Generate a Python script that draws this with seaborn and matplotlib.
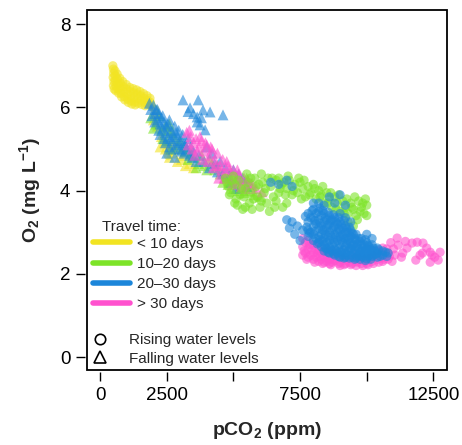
import matplotlib
matplotlib.use("Agg")
import matplotlib.pyplot as plt
from matplotlib.lines import Line2D
import seaborn as sns
import pandas as pd

# ---------------- data (pCO2 ppm, O2 mg/L) ----------------
yellow_rising = [
    (480, 7.00), (500, 6.92), (510, 6.82), (490, 6.72), (520, 6.62), (500, 6.52), (530, 6.44),
    (560, 6.88), (570, 6.76), (580, 6.64), (600, 6.52), (590, 6.40),
    (640, 6.80), (650, 6.68), (670, 6.56), (680, 6.44), (700, 6.34),
    (740, 6.70), (760, 6.58), (770, 6.46), (790, 6.34), (810, 6.25),
    (850, 6.62), (870, 6.50), (890, 6.38), (910, 6.26), (930, 6.18),
    (980, 6.55), (1000, 6.44), (1020, 6.32), (1040, 6.20), (1060, 6.12),
    (1110, 6.48), (1130, 6.38), (1150, 6.27), (1170, 6.16), (1190, 6.08),
    (1240, 6.45), (1260, 6.35), (1280, 6.24), (1300, 6.13), (1320, 6.06),
    (1370, 6.42), (1390, 6.32), (1410, 6.21), (1430, 6.10),
    (1500, 6.38), (1520, 6.28), (1540, 6.17), (1560, 6.07),
    (1630, 6.33), (1650, 6.22), (1670, 6.12), (1690, 6.04),
    (1760, 6.28), (1780, 6.17), (1800, 6.07),
    (1870, 6.22), (1890, 6.12), (1920, 6.04),
    (2050, 5.95), (2100, 5.80), (2500, 5.10), (2600, 4.95), (2700, 5.05), (2550, 4.85),
]
yellow_falling = [
    (2000, 5.70), (2150, 5.55), (2300, 5.30), (2400, 5.15), (2450, 5.00), (2600, 4.80),
    (2750, 4.90), (2900, 4.70), (3050, 4.75), (3200, 4.60), (3350, 4.65), (3500, 4.55),
    (2250, 5.05), (2800, 5.00), (3100, 4.85),
]
green_falling = [
    (1900, 5.75), (2100, 5.60), (2300, 5.45), (2450, 5.55), (2500, 5.20), (2700, 5.40),
    (2650, 5.00), (2900, 5.05), (3000, 5.20), (3200, 4.95), (3300, 4.75), (3500, 4.80),
    (3700, 4.65), (3900, 4.60), (4100, 4.75), (4300, 4.50), (4500, 4.40), (4700, 4.30),
    (4900, 4.45), (5100, 4.25), (5300, 4.15), (5500, 4.30), (5700, 4.10), (2200, 5.80),
    (2600, 5.60),
    (2000, 5.50), (2350, 5.25), (2550, 5.45), (2800, 5.25), (3100, 5.00), (3400, 4.90),
    (3600, 4.55), (3800, 4.85), (4000, 4.50), (4200, 4.65), (4400, 4.60), (4600, 4.20),
    (4800, 4.15), (5000, 4.05), (5200, 4.00), (5400, 3.95), (5600, 4.00), (5800, 3.90),
    (6000, 3.85),
]
blue_falling = [
    (1850, 6.10), (1900, 5.95), (2000, 6.05), (2050, 5.85), (2100, 5.95), (2150, 5.70),
    (2200, 5.85), (2250, 5.60), (2300, 5.75), (2350, 5.50), (2400, 5.65), (2450, 5.40),
    (2500, 5.55), (2550, 5.30), (2600, 5.70), (2650, 5.45), (2700, 5.20), (2750, 5.35),
    (2800, 5.55), (2850, 5.10), (2900, 5.30), (2950, 5.45), (3000, 5.00), (3050, 5.20),
    (3100, 5.35), (3150, 4.90), (3200, 5.10), (3300, 5.25), (3350, 4.85), (3400, 5.05),
    (2200, 5.45), (2400, 5.25), (2600, 5.05), (2500, 4.90), (2800, 4.80), (3500, 4.95),
    (3600, 4.70),
    (1950, 5.80), (2050, 5.65), (2150, 5.95), (2250, 5.35), (2350, 5.80), (2450, 5.15),
    (2550, 5.60), (2650, 5.25), (2750, 5.00), (2850, 5.40), (2950, 5.15), (3050, 4.95),
    (3150, 5.15), (3250, 5.00), (3450, 4.80), (3700, 4.85), (3900, 4.70), (4100, 4.55),
    (4300, 4.65), (4400, 4.45), (4600, 4.40), (4900, 4.20), (5100, 4.05), (5500, 4.10),
    (4700, 4.55), (4850, 4.35), (5000, 4.50), (5200, 4.40), (5350, 4.30), (4500, 4.70),
    (4000, 5.05), (4200, 4.90),
    (3110, 6.18), (3680, 6.18), (3375, 5.99), (3860, 5.94), (4125, 5.89), (4610, 5.82),
    (3640, 5.77), (3940, 5.46), (3640, 5.65), (3750, 5.58), (3500, 5.85), (3800, 5.75),
    (3300, 5.90),
]
pink_falling = [
    (3250, 5.40), (3400, 5.30), (3500, 5.15), (3600, 5.25), (3700, 5.05), (3800, 5.20),
    (3900, 4.95), (4000, 5.10), (4100, 4.85), (4200, 5.00), (4300, 4.75), (4400, 4.90),
    (4500, 4.60), (4600, 4.75), (4700, 4.45), (4800, 4.60), (4900, 4.30), (5000, 4.50),
    (5100, 4.20), (5200, 4.40), (5400, 4.30), (5600, 4.15), (5700, 4.18), (6075, 3.97),
    (3550, 4.85), (3850, 4.75), (4250, 4.55), (4450, 4.30), (5300, 4.10), (3300, 5.10),
    (3350, 5.45), (3450, 5.00), (3650, 4.95), (3750, 5.30), (3950, 5.15), (4050, 4.70),
    (4150, 5.05), (4350, 4.60), (4550, 4.50), (4650, 4.30), (4750, 4.70), (4850, 4.50),
    (4950, 4.15), (5050, 4.35), (5150, 4.50), (5250, 4.25), (5450, 4.05), (5550, 4.25),
    (5850, 4.05),
]
green_rising = [
    (4700, 4.30), (4800, 4.10), (4900, 3.95), (5000, 4.35), (5050, 4.15), (5100, 3.80),
    (5150, 3.65), (5200, 4.25), (5300, 4.05), (5350, 3.55), (5400, 3.85), (5500, 4.40),
    (5550, 4.20), (5600, 3.70), (5650, 3.95), (5700, 3.55), (5800, 4.30), (5850, 4.10),
    (5900, 3.85), (6000, 3.60), (6050, 4.40), (6100, 4.20), (6150, 3.95), (6250, 3.70),
    (6300, 4.30), (6350, 3.50), (6400, 4.10), (6500, 3.85), (6600, 4.25), (6700, 3.95),
    (6800, 4.15), (6850, 3.60),
    (6700, 4.30), (6900, 4.20), (7000, 4.05), (7100, 4.25), (7300, 4.15), (7400, 3.95),
    (7500, 4.20), (7600, 4.05), (7700, 3.85), (7800, 4.10), (7900, 3.95), (8000, 4.15),
    (8100, 3.80), (8200, 4.00), (8300, 3.90), (8400, 3.70), (8500, 3.95), (8600, 3.80),
    (8700, 3.60), (8800, 3.85), (8900, 3.70), (9000, 3.50), (9100, 3.75), (9200, 3.60),
    (9300, 3.45), (9400, 3.70), (9500, 3.55), (9600, 3.40), (9700, 3.75), (9800, 3.60),
    (9900, 3.45), (10000, 3.65), (9950, 3.80), (7200, 3.90), (7000, 3.70), (6600, 3.75),
    (9300, 3.25), (9500, 3.15), (9650, 3.30),
    (4750, 4.20), (4850, 3.90), (4950, 4.25), (5050, 3.70), (5250, 3.90), (5450, 4.05),
    (5450, 3.60), (5650, 4.30), (5750, 3.80), (5950, 4.15), (6050, 3.75), (6200, 4.05),
    (6450, 4.30), (6550, 3.60), (6750, 4.05), (6950, 3.90), (7050, 4.35), (7250, 4.00),
    (7450, 4.30), (7550, 3.80), (7650, 4.25), (7850, 3.90), (8050, 4.05), (8250, 3.85),
    (8350, 4.10), (8550, 3.70), (8650, 3.95), (8850, 3.55), (8950, 3.90), (9150, 3.45),
    (9250, 3.80), (9450, 3.60), (9550, 3.85), (9750, 3.50), (9850, 3.70), (10000, 3.40),
]
pink_rising = [
    (7600, 2.85), (7600, 2.65), (7600, 2.45), (7800, 2.80), (7800, 2.60), (7800, 2.40),
    (8000, 2.70), (8000, 2.50), (8000, 2.35), (8200, 2.75), (8200, 2.55), (8200, 2.30),
    (8400, 2.60), (8400, 2.40), (8400, 2.28), (8600, 2.55), (8600, 2.35), (8600, 2.25),
    (8800, 2.50), (8800, 2.32), (9000, 2.45), (9000, 2.28), (9000, 2.20), (9200, 2.40),
    (9200, 2.25), (9400, 2.35), (9400, 2.22), (9600, 2.45), (9600, 2.30), (9600, 2.20),
    (9800, 2.40), (9800, 2.25), (10000, 2.38), (10000, 2.25), (10200, 2.45), (10200, 2.30),
    (10400, 2.55), (10400, 2.35), (10600, 2.62), (10600, 2.40), (10600, 2.30), (10800, 2.50),
    (10800, 2.35), (7700, 2.75), (7700, 2.50), (7900, 2.70), (7900, 2.45), (8100, 2.60),
    (8100, 2.40), (8300, 2.50), (8300, 2.35), (8500, 2.45), (8500, 2.30), (8700, 2.40),
    (8700, 2.28),
    (7650, 2.55), (7750, 2.35), (7850, 2.70), (7950, 2.58), (8050, 2.28), (8150, 2.50),
    (8250, 2.42), (8350, 2.25), (8450, 2.52), (8550, 2.38), (8650, 2.22), (8750, 2.35),
    (8850, 2.42), (8950, 2.25), (9050, 2.35), (9150, 2.22), (9250, 2.32), (9350, 2.28),
    (9450, 2.25), (9550, 2.38), (9650, 2.28), (9750, 2.32), (9850, 2.20), (9950, 2.30),
    (10050, 2.22), (10150, 2.38), (10250, 2.25), (10350, 2.40), (10450, 2.28), (10550, 2.48),
    (10650, 2.35), (10750, 2.60), (10850, 2.42), (10950, 2.30), (11050, 2.45), (11450, 2.78),
    (12250, 2.62), (12550, 2.40),
    (11140, 2.86), (11180, 2.69), (11700, 2.74), (11890, 2.76), (12110, 2.74), (11510, 2.62),
    (11350, 2.50), (11840, 2.33), (12090, 2.50), (12380, 2.52), (12450, 2.45), (12380, 2.28),
    (12680, 2.33), (12750, 2.52), (11000, 2.60), (10900, 2.75), (11300, 2.40), (12000, 2.45),
]
blue_rising = [
    (6400, 4.20), (6700, 4.15), (7000, 4.25), (7200, 4.10), (8600, 3.85), (8800, 3.70),
    (9000, 3.90), (9200, 3.65),
    (7000, 3.30), (7200, 3.25), (7100, 3.10), (7300, 2.95), (7400, 3.15), (7600, 3.05),
    (7500, 2.80),
    (7800, 3.45), (7800, 3.25), (7800, 3.05), (7800, 2.90),
    (8000, 3.55), (8000, 3.35), (8000, 3.15), (8000, 2.95), (8000, 2.80),
    (8200, 3.50), (8200, 3.30), (8200, 3.10), (8200, 2.90), (8200, 2.75),
    (8400, 3.45), (8400, 3.25), (8400, 3.05), (8400, 2.85), (8400, 2.70), (8400, 2.55),
    (8600, 3.40), (8600, 3.20), (8600, 3.00), (8600, 2.80), (8600, 2.65), (8600, 2.50),
    (8800, 3.35), (8800, 3.15), (8800, 2.95), (8800, 2.75), (8800, 2.60), (8800, 2.45),
    (9000, 3.25), (9000, 3.05), (9000, 2.90), (9000, 2.70), (9000, 2.55), (9000, 2.40),
    (9200, 3.15), (9200, 3.00), (9200, 2.85), (9200, 2.65), (9200, 2.50), (9200, 2.40),
    (9400, 3.05), (9400, 2.90), (9400, 2.75), (9400, 2.60), (9400, 2.45),
    (9600, 2.95), (9600, 2.80), (9600, 2.65), (9600, 2.50), (9600, 2.38),
    (9800, 2.85), (9800, 2.70), (9800, 2.55), (9800, 2.42),
    (10000, 2.75), (10000, 2.60), (10000, 2.48), (10000, 2.36),
    (10200, 2.70), (10200, 2.55), (10200, 2.42),
    (10400, 2.62), (10400, 2.50), (10400, 2.40),
    (10600, 2.55), (10600, 2.45), (10800, 2.50),
    (7900, 3.35), (7900, 3.00), (8100, 3.45), (8100, 3.20), (8100, 2.85),
    (8300, 3.40), (8300, 3.15), (8300, 2.95), (8300, 2.65),
    (8500, 3.30), (8500, 3.10), (8500, 2.75), (8500, 2.60),
    (8700, 3.30), (8700, 3.05), (8700, 2.70), (8700, 2.55),
    (8900, 3.20), (8900, 3.00), (8900, 2.80), (8900, 2.50),
    (9100, 3.10), (9100, 2.95), (9100, 2.75), (9100, 2.45),
    (9300, 3.00), (9300, 2.80), (9300, 2.55), (9500, 2.95), (9500, 2.70), (9500, 2.50),
    (9700, 2.85), (9700, 2.60), (9700, 2.45), (9900, 2.70), (9900, 2.50),
    (10100, 2.65), (10100, 2.45), (10300, 2.55),
    (8000, 3.70), (8200, 3.70), (8400, 3.65), (9000, 3.45), (9200, 3.35), (9400, 3.25),
    (10000, 2.95), (10200, 2.85),
    (7700, 3.38), (7750, 3.12), (7850, 2.98), (7950, 3.52), (8050, 3.28), (8050, 3.02),
    (8150, 2.72), (8250, 3.58), (8250, 3.22), (8250, 2.82), (8350, 3.52), (8350, 3.05),
    (8350, 2.78), (8450, 3.35), (8450, 2.95), (8450, 2.62), (8550, 3.48), (8550, 3.18),
    (8550, 2.88), (8550, 2.52), (8650, 3.28), (8650, 2.92), (8650, 2.58), (8750, 3.42),
    (8750, 3.12), (8750, 2.82), (8750, 2.48), (8850, 3.25), (8850, 2.88), (8850, 2.55),
    (8950, 3.35), (8950, 3.08), (8950, 2.62), (8950, 2.42), (9050, 3.18), (9050, 2.82),
    (9050, 2.52), (9150, 3.28), (9150, 2.88), (9150, 2.58), (9150, 2.38), (9250, 3.08),
    (9250, 2.72), (9250, 2.45), (9350, 3.12), (9350, 2.85), (9350, 2.62), (9350, 2.38),
    (9450, 2.98), (9450, 2.68), (9450, 2.40), (9550, 2.85), (9550, 2.58), (9550, 2.35),
    (9650, 2.72), (9650, 2.42), (9750, 2.78), (9750, 2.52), (9750, 2.35), (9850, 2.62),
    (9850, 2.40), (9950, 2.82), (9950, 2.55), (9950, 2.32), (10050, 2.68), (10050, 2.42),
    (10150, 2.58), (10150, 2.35), (10250, 2.62), (10250, 2.45), (10350, 2.48), (10450, 2.58),
    (10500, 2.42), (10700, 2.52), (10750, 2.42),
]

travel_labels = ["< 10 days", "10\u201320 days", "20\u201330 days", "> 30 days"]
level_labels = ["Rising water levels", "Falling water levels"]
palette_colors = ["#F2E422", "#7DE428", "#1C86DA", "#FF52CE"]

# draw order (later groups on top)
groups = [
    (yellow_rising, 0, "Rising"), (yellow_falling, 0, "Falling"),
    (green_falling, 1, "Falling"), (blue_falling, 2, "Falling"),
    (pink_falling, 3, "Falling"), (pink_rising, 3, "Rising"),
    (green_rising, 1, "Rising"), (blue_rising, 2, "Rising"),
]
rows = []
for pts, ti, lvl in groups:
    for x, y in pts:
        rows.append({"pCO2": x, "O2": y, "travel": travel_labels[ti], "level": lvl})
df = pd.DataFrame(rows)

# ---------------- styling ----------------
sns.set_theme(style="white")
plt.rcParams["font.family"] = ["Liberation Sans", "DejaVu Sans"]
plt.rcParams["mathtext.fontset"] = "custom"
plt.rcParams["mathtext.rm"] = "Liberation Sans"
plt.rcParams["mathtext.bf"] = "Liberation Sans:bold"
plt.rcParams["mathtext.it"] = "Liberation Sans:italic"

fig = plt.figure(figsize=(4.62, 4.45), dpi=100)
ax = fig.add_axes([87 / 462, 1 - 370 / 445, 360 / 462, 360 / 445])

sns.scatterplot(
    data=df, x="pCO2", y="O2", hue="travel", style="level", size="level",
    hue_order=travel_labels, palette=dict(zip(travel_labels, palette_colors)),
    markers={"Rising": "o", "Falling": "^"}, sizes={"Rising": 44, "Falling": 62},
    alpha=0.6, linewidth=0, legend=False, ax=ax,
)

ax.set_xlim(-490, 13010)
ax.set_ylim(-0.31, 8.34)
ax.set_xticks([0, 2500, 5000, 7500, 10000, 12500])
ax.set_xticklabels(["0", "2500", "", "7500", "", "12500"])
ax.set_yticks([0, 2, 4, 6, 8])
ax.set_yticklabels(["0", "2", "4", "6", "8"])

for sp in ax.spines.values():
    sp.set_visible(False)
ax.spines["left"].set_position(("outward", 1.5))
ax.spines["bottom"].set_position(("outward", 1.5))
ax.patch.set_edgecolor("black")
ax.patch.set_linewidth(1.3)
ax.tick_params(axis="both", direction="out", length=6.5, width=1.0, color="black",
               labelsize=13.5, labelcolor="black", pad=4, left=True, bottom=True)

ax.set_xlabel(r"$\mathbf{pCO_2\ (ppm)}$", fontsize=14, labelpad=12)
ax.set_ylabel(r"$\mathbf{O_2\ (mg\ L^{-1})}$", fontsize=14, labelpad=12)

# legend: travel time
handles1 = [Line2D([], [], color=c, lw=4, solid_capstyle="round") for c in palette_colors]
leg1 = ax.legend(handles1, travel_labels, loc="upper left", bbox_to_anchor=(0.017, 0.370),
                 frameon=False, fontsize=11, handlelength=2.4, handletextpad=0.5,
                 labelspacing=0.4, borderpad=0, borderaxespad=0)
ax.add_artist(leg1)
ax.text(0.042, 0.397, "Travel time:", transform=ax.transAxes, fontsize=11,
        ha="left", va="center")

handles2 = [Line2D([], [], ls="none", marker="o", ms=7.5, mfc="none", mec="black", mew=1.2),
            Line2D([], [], ls="none", marker="^", ms=8, mfc="none", mec="black", mew=1.2)]
ax.legend(handles2, level_labels, loc="upper left", bbox_to_anchor=(0.015, 0.103),
          frameon=False, fontsize=11, handlelength=1.0, handletextpad=1.4,
          labelspacing=0.31, borderpad=0, borderaxespad=0)

fig.savefig("out.png", dpi=100)
